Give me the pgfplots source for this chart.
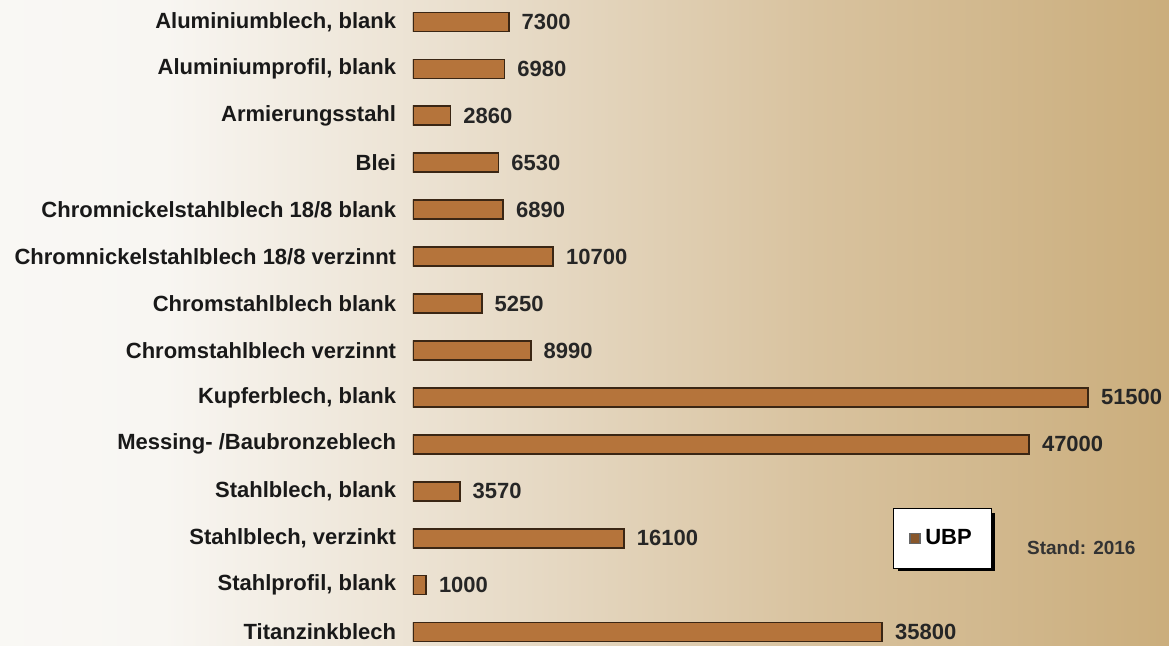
\documentclass[border=0pt]{standalone}
\usepackage{fontspec}
\setmainfont{Liberation Sans}
\usepackage{pgfplots}
\pgfplotsset{compat=1.18}
\definecolor{wood}{HTML}{B5743B}
\definecolor{woodline}{HTML}{3A2614}
\definecolor{bg0}{HTML}{FEFEFD}
\definecolor{bg1}{HTML}{F8F6F2}
\definecolor{bg2}{HTML}{E6D9C4}
\definecolor{bg3}{HTML}{D8C29E}
\definecolor{bg4}{HTML}{C9AB78}
\definecolor{bg5}{HTML}{BF9F63}
\pgfdeclarehorizontalshading{bgshade}{100bp}{%
  color(0bp)=(bg0); color(32bp)=(bg1); color(48bp)=(bg2);
  color(60bp)=(bg3); color(77bp)=(bg4); color(100bp)=(bg5)}
\newcommand\lbl{\fontsize{11}{13}\selectfont\bfseries}

\begin{document}
\begin{tikzpicture}
\shade[shading=bgshade] (0,0) rectangle (584.5pt,323pt);
\begin{axis}[
  at={(206.5pt,0pt)}, anchor=south west,
  scale only axis,
  width=378pt, height=323pt,
  xbar, bar width=9.5pt,
  xmin=0, xmax=57670,
  ymin=-0.469, ymax=13.298,
  y dir=reverse,
  axis line style={draw=none},
  xtick=\empty,
  ytick={0,...,13},
  ytick style={draw=none},
  yticklabels={{Aluminiumblech, blank},{Aluminiumprofil, blank},Armierungsstahl,Blei,
    Chromnickelstahlblech 18/8 blank,Chromnickelstahlblech 18/8 verzinnt,
    Chromstahlblech blank,Chromstahlblech verzinnt,{Kupferblech, blank},
    Messing- /Baubronzeblech,{Stahlblech, blank},{Stahlblech, verzinkt},
    {Stahlprofil, blank},Titanzinkblech},
  yticklabel style={anchor=east, inner sep=0pt, xshift=-4pt, font=\lbl, text=black!90},
  point meta=x,
  nodes near coords,
  nodes near coords style={font=\lbl, text=black!85, anchor=west, inner sep=0pt, xshift=6pt,
    /pgf/number format/assume math mode=true, /pgf/number format/1000 sep={}},
  legend style={at={(rel axis cs:0.635,0.2136)}, anchor=north west,
    draw=black, fill=white, font=\lbl, inner xsep=8pt, inner ysep=8.5pt},
  legend image code/.code={\draw[fill=wood!75!black, draw=black!60] (2pt,-2.5pt) rectangle (7pt,2.5pt);},
]
\fill[black] (rel axis cs:0.642,0.206) rectangle (rel axis cs:0.770,0.116);
\addplot[fill=wood, draw=woodline, line width=0.9pt] coordinates {
(7300,0) (6980,1) (2860,2) (6530,3) (6890,4) (10700,5) (5250,6)
(8990,7) (51500,8) (47000,9) (3570,10) (16100,11) (1000,12) (35800,13)};
\addlegendentry{UBP}
\node[anchor=west, font=\fontsize{9.5}{11}\selectfont\bfseries, text=black!80]
  at (rel axis cs:0.803,0.1517) {Stand: 2016};
\end{axis}
\pgfresetboundingbox
\useasboundingbox (0,0) rectangle (584.5pt,323pt);
\end{tikzpicture}
\end{document}
